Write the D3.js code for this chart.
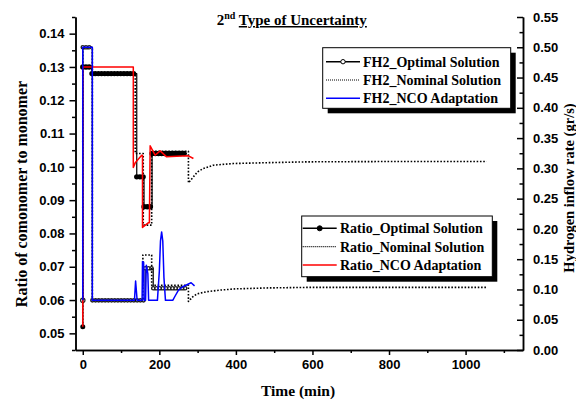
<!DOCTYPE html>
<html>
<head>
<meta charset="utf-8">
<script src="https://cdn.jsdelivr.net/npm/d3@7"></script>
<style>
  body { margin: 0; background: #fff; }
  svg { display: block; }
  .tick text { font-family: "Liberation Sans", Arial, sans-serif; font-weight: bold; font-size: 13px; fill: #000; }
  .serif { font-family: "Liberation Serif", "Times New Roman", serif; font-weight: bold; fill: #000; }
</style>
</head>
<body>
<div id="chart"></div>
<script>
// ticks
var timeTicks = [0, 200, 400, 600, 800, 1000];
var timeMinor = [100, 300, 500, 700, 900, 1100];
var ratioTicks = [0.05, 0.06, 0.07, 0.08, 0.09, 0.10, 0.11, 0.12, 0.13, 0.14];
var ratioMinor = [0.045, 0.055, 0.065, 0.075, 0.085, 0.095, 0.105, 0.115, 0.125, 0.135, 0.145];
var fh2Ticks = [0, 0.05, 0.10, 0.15, 0.20, 0.25, 0.30, 0.35, 0.40, 0.45, 0.50, 0.55];
var fh2Minor = [0.025, 0.075, 0.125, 0.175, 0.225, 0.275, 0.325, 0.375, 0.425, 0.475, 0.525];

var fh2Names = ["FH2_Optimal Solution", "FH2_Nominal Solution", "FH2_NCO Adaptation"];
var ratioNames = ["Ratio_Optimal Solution", "Ratio_Nominal Solution", "Ratio_NCO Adaptation"];

// hydrogen inflow (right axis, gr/s) vs time (min)
var fh2OptT = [0, 0, 25, 25, 163, 163, 184, 184, 272];
var fh2OptV = [0.082, 0.50, 0.50, 0.082, 0.082, 0.135, 0.135, 0.102, 0.102];

var fh2NomT = [0, 0, 25, 25, 157, 157, 180, 180, 276, 276, 289, 300, 324, 360, 400, 480, 600, 800, 1055];
var fh2NomV = [0.082, 0.50, 0.50, 0.082, 0.082, 0.157, 0.157, 0.107, 0.107, 0.080, 0.089, 0.093, 0.0963, 0.099, 0.101, 0.1025, 0.1035, 0.1035, 0.1035];

var fh2NcoT = [0, 0, 25, 25, 135, 138, 142, 155, 156, 159, 160, 164, 166, 170, 172, 195, 200, 203, 206, 209, 212, 216, 235, 242, 250, 260, 276, 283, 292];
var fh2NcoV = [0.082, 0.50, 0.50, 0.082, 0.082, 0.114, 0.082, 0.082, 0.146, 0.145, 0.082, 0.082, 0.140, 0.126, 0.082, 0.082, 0.13, 0.18, 0.195, 0.18, 0.12, 0.082, 0.082, 0.09, 0.099, 0.104, 0.109, 0.111, 0.106];

// comonomer / monomer ratio (left axis)
var ratioOptT = [0, 0, 24, 24, 141, 141, 160, 160, 181, 181, 272];
var ratioOptV = [0.052, 0.130, 0.130, 0.128, 0.128, 0.097, 0.097, 0.088, 0.088, 0.104, 0.104];

var ratioNomT = [0, 0, 24, 24, 137, 137, 158, 158, 180, 180, 276, 276, 289, 300, 315, 341, 393, 463, 585, 800, 1055];
var ratioNomV = [0.052, 0.130, 0.130, 0.128, 0.128, 0.104, 0.104, 0.0825, 0.0825, 0.1047, 0.1047, 0.0952, 0.097, 0.0985, 0.0995, 0.1005, 0.101, 0.1012, 0.1015, 0.1016, 0.1016];

var ratioNcoT = [0, 0, 132, 132, 137, 154, 156, 156, 171, 174, 176, 189, 202, 219, 245, 276, 289];
var ratioNcoV = [0.052, 0.130, 0.130, 0.0998, 0.1012, 0.1035, 0.1035, 0.0818, 0.0832, 0.0832, 0.1063, 0.1035, 0.1048, 0.103, 0.1032, 0.1033, 0.1025];

var W = 576, H = 401;
var svg = d3.select("#chart").append("svg").attr("width", W).attr("height", H);

var x = d3.scaleLinear().domain([-19, 1150]).range([75.5, 523]);
var yL = d3.scaleLinear().domain([0.045, 0.145]).range([350, 17]);
var yR = d3.scaleLinear().domain([0, 0.55]).range([350, 17]);

function styleAxis(g) {
  g.selectAll("path.domain").attr("stroke", "#000").attr("stroke-width", 1.5);
  g.selectAll(".tick line").attr("stroke", "#000").attr("stroke-width", 1.5);
}

// left axis
var gL = svg.append("g").attr("transform", "translate(75.5,0)");
gL.call(d3.axisLeft(yL).tickValues(ratioTicks).tickSizeInner(6).tickSizeOuter(0).tickPadding(5).tickFormat(d3.format(".2f")));
gL.append("g").call(d3.axisLeft(yL).tickValues(ratioMinor).tickSizeInner(3.5).tickSizeOuter(0).tickFormat(""));
styleAxis(gL);

// bottom axis
var gB = svg.append("g").attr("transform", "translate(0,350)");
gB.call(d3.axisBottom(x).tickValues(timeTicks).tickSizeInner(5).tickSizeOuter(0).tickPadding(5).tickFormat(d3.format("d")));
gB.append("g").call(d3.axisBottom(x).tickValues(timeMinor).tickSizeInner(3).tickSizeOuter(0).tickFormat(""));
styleAxis(gB);

// right axis, ticks inside
var gR = svg.append("g").attr("transform", "translate(523,0)");
gR.call(d3.axisRight(yR).tickValues(fh2Ticks).tickSizeInner(-6).tickSizeOuter(0).tickPadding(10).tickFormat(d3.format(".2f")));
gR.append("g").call(d3.axisRight(yR).tickValues(fh2Minor).tickSizeInner(-3.5).tickSizeOuter(0).tickFormat(""));
styleAxis(gR);

// helpers
function pts(T, V) { return T.map(function (t, i) { return [t, V[i]]; }); }
function flatSegs(T, V) {
  var out = [];
  for (var i = 0; i < T.length - 1; i++)
    if (V[i] === V[i + 1] && T[i + 1] > T[i]) out.push([T[i], T[i + 1], V[i]]);
  return out;
}
function drawLine(T, V, y, color, width, dash) {
  var line = d3.line().x(function (d) { return x(d[0]); }).y(function (d) { return y(d[1]); });
  var p = svg.append("path").datum(pts(T, V)).attr("d", line)
    .attr("fill", "none").attr("stroke", color).attr("stroke-width", width)
    .attr("stroke-linejoin", "round");
  if (dash) p.attr("stroke-dasharray", dash);
  return p;
}
// dense markers along the flat parts of an optimal profile
function drawDots(T, V, y, open) {
  var segs = flatSegs(T, V);
  var g = svg.append("g");
  var layers = open ? [["#222", 4.6], ["#fff", 1.8]] : [["#000", 5.4]];
  layers.forEach(function (l) {
    g.selectAll(null).data(segs).enter().append("line")
      .attr("x1", function (d) { return x(d[0]); })
      .attr("x2", function (d) { return x(d[1]); })
      .attr("y1", function (d) { return y(d[2]); })
      .attr("y2", function (d) { return y(d[2]); })
      .attr("stroke", l[0]).attr("stroke-width", l[1])
      .attr("stroke-linecap", "round").attr("stroke-dasharray", "0 3.2");
  });
  g.append("circle").attr("cx", x(T[0])).attr("cy", y(V[0])).attr("r", open ? 2.2 : 2.5)
    .attr("fill", open ? "#fff" : "#000").attr("stroke", open ? "#222" : "none").attr("stroke-width", 1.2);
}

// series
drawLine(fh2OptT, fh2OptV, yR, "#000", 1.2);
drawDots(fh2OptT, fh2OptV, yR, true);
drawLine(ratioOptT, ratioOptV, yL, "#000", 1.2);
drawDots(ratioOptT, ratioOptV, yL, false);
drawLine(fh2NomT, fh2NomV, yR, "#000", 1.6, "1.6 1.7");
drawLine(ratioNomT, ratioNomV, yL, "#000", 1.6, "1.6 1.7");
drawLine(ratioNcoT, ratioNcoV, yL, "#ff0000", 1.5);
drawLine(fh2NcoT, fh2NcoV, yR, "#0000ff", 1.5);

// legends
function legend(names, bx, by, bw, bh, sx0, sx1, tx, rows, mark, nomColor, ncoColor) {
  var g = svg.append("g");
  g.append("rect").attr("x", bx + 5).attr("y", by + 5).attr("width", bw).attr("height", bh).attr("fill", "#000");
  g.append("rect").attr("x", bx).attr("y", by).attr("width", bw).attr("height", bh)
    .attr("fill", "#fff").attr("stroke", "#000").attr("stroke-width", 1);
  names.forEach(function (n, i) {
    var cy = rows[i];
    var ln = g.append("line").attr("x1", sx0).attr("x2", sx1).attr("y1", cy).attr("y2", cy);
    if (i === 0) ln.attr("stroke", "#000").attr("stroke-width", 1.5);
    if (i === 1) ln.attr("stroke", "#000").attr("stroke-width", 1.2).attr("stroke-dasharray", "1 1");
    if (i === 2) ln.attr("stroke", ncoColor).attr("stroke-width", 1.5);
    if (i === 0) {
      g.append("circle").attr("cx", (sx0 + sx1) / 2).attr("cy", cy).attr("r", mark === "open" ? 2.2 : 2.5)
        .attr("fill", mark === "open" ? "#fff" : "#000").attr("stroke", "#000").attr("stroke-width", 1);
    }
    g.append("text").attr("class", "serif").attr("x", tx).attr("y", cy + 4.8)
      .attr("font-size", 14).text(n);
  });
}
legend(fh2Names, 322.7, 47.7, 188, 60.6, 326, 360, 363, [61.7, 80, 98.3], "open", "#000", "#0000ff");
legend(ratioNames, 301.7, 216, 190.6, 60.7, 302.7, 336.7, 340, [228.3, 246.7, 265], "filled", "#000", "#ff0000");

// title
var title = svg.append("text").attr("class", "serif").attr("x", 216.7).attr("y", 25).attr("font-size", 15);
title.append("tspan").text("2");
title.append("tspan").attr("font-size", 10).attr("dy", -6).text("nd");
title.append("tspan").attr("dy", 6).text(" ");
title.append("tspan").attr("text-decoration", "underline").text("Type of Uncertainty");

// axis titles
svg.append("text").attr("class", "serif").attr("font-size", 15.5)
  .attr("text-anchor", "middle").attr("x", 298).attr("y", 396).text("Time (min)");
svg.append("text").attr("class", "serif").attr("font-size", 16)
  .attr("text-anchor", "middle").attr("transform", "translate(26.5,194) rotate(-90)")
  .text("Ratio of comonomer to monomer");
svg.append("text").attr("class", "serif").attr("font-size", 14.5)
  .attr("text-anchor", "middle").attr("transform", "translate(573.5,188) rotate(-90)")
  .text("Hydrogen inflow rate (gr/s)");
</script>
</body>
</html>
